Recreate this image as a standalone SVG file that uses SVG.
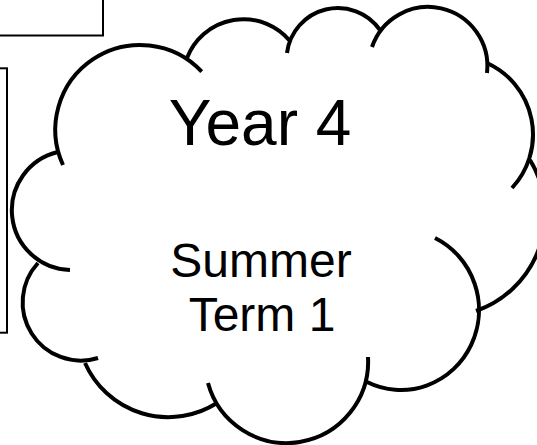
<svg xmlns="http://www.w3.org/2000/svg" width="537" height="445" viewBox="0 0 537 445">
  <style>
    .box { fill: #ffffff; stroke: #000000; stroke-width: 2; }
    .lobe { fill: none; stroke: #000000; stroke-width: 4; stroke-linecap: butt; }
    .big { font-family: "Liberation Sans", Arial, sans-serif; font-size: 64px; fill: #000000; text-anchor: middle; }
    .small { font-family: "Liberation Sans", Arial, sans-serif; font-size: 48px; fill: #000000; text-anchor: middle; }
  </style>
  <rect x="0" y="0" width="537" height="445" fill="#ffffff"/>
  <g id="box-top">
    <rect class="box" x="-10" y="-10" width="113" height="45.5"/>
  </g>
  <g id="box-left">
    <rect class="box" x="-10" y="68.3" width="17" height="264.4"/>
  </g>
  <g id="cloud">
    <g id="cloud-outline">
      <path class="lobe" d="M63,165 A84.7,84.7 0 0 1 201.7,71.7"/>
      <path class="lobe" d="M187,58 A60.5,60.5 0 0 1 290,41"/>
      <path class="lobe" d="M287,53 A51.3,51.3 0 0 1 380,30"/>
      <path class="lobe" d="M372,47 A59.3,59.3 0 0 1 487,73"/>
      <path class="lobe" d="M487,63 A78.6,78.6 0 0 1 512,188"/>
      <path class="lobe" d="M530,160 A103,103 0 0 1 476,311"/>
      <path class="lobe" d="M435,238 A78,80 0 0 1 367,382"/>
      <path class="lobe" d="M368,357 A81.5,81.5 0 0 1 208,383"/>
      <path class="lobe" d="M217,403 A91,91 0 0 1 85,363"/>
      <path class="lobe" d="M98,358 A58.2,58.2 0 0 1 38,263"/>
      <path class="lobe" d="M70,270 A59.8,59.8 0 0 1 58,152"/>
    </g>
    <text class="big" x="260" y="145">Year 4</text>
    <text class="small" x="261" y="277">Summer</text>
    <text class="small" x="262" y="331">Term 1</text>
  </g>
</svg>
